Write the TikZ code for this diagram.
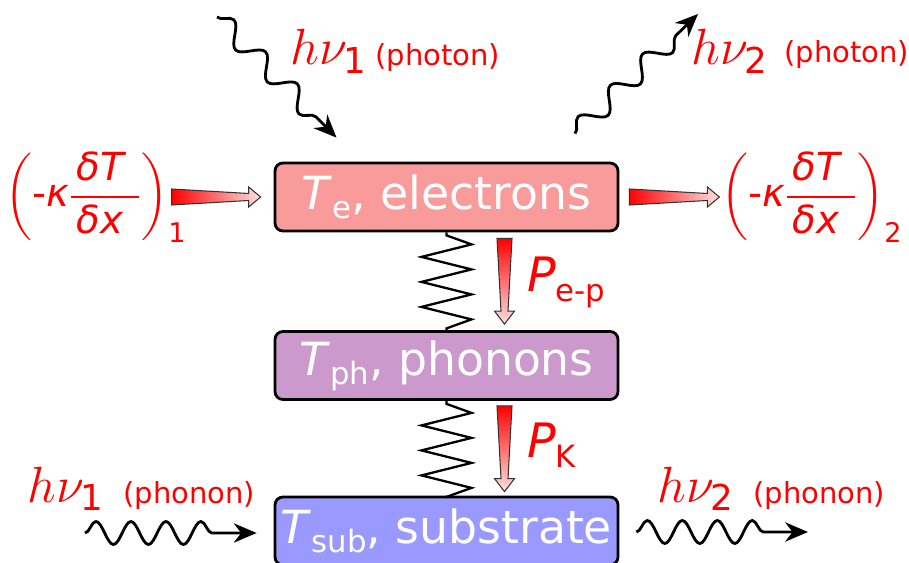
\documentclass[tikz,border=0pt]{standalone}
\usepackage{fix-cm}
\usepackage{amsmath}
\usepackage{fontspec}
\setmainfont{DejaVu Sans}
\usetikzlibrary{arrows.meta,positioning,calc,decorations.pathmorphing}

\definecolor{elecfill}{RGB}{250,155,155}
\definecolor{phonfill}{RGB}{204,153,204}
\definecolor{subfill}{RGB}{153,153,255}

\newcommand{\boxsub}[1]{\raisebox{-5pt}{\fontsize{17.5}{18}\selectfont #1}}
\newcommand{\powsub}[1]{\raisebox{-5.5pt}{\fontsize{17.5}{18}\selectfont #1}}
\newcommand{\gradT}{\dfrac{\hspace{3pt}\text{\itshape δT}\hspace{9pt}}{\text{\itshape δx}\hspace{6pt}}}

% tapered flux arrows, (#1) = tail, (#2) = tip
\newcommand{\hflux}[2]{%
  \shade[flux, left color=red, right color=red!12]
    ($(#1)+(0,-8)$) -- ($(#2)+(-12,-3.5)$) -- ($(#2)+(-12,-10)$) -- (#2)
    -- ($(#2)+(-12,10)$) -- ($(#2)+(-12,3.5)$) -- ($(#1)+(0,8)$) -- cycle;}
\newcommand{\vflux}[2]{%
  \shade[flux, top color=red, bottom color=red!12]
    ($(#1)+(-7.5,0)$) -- ($(#2)+(-3.5,-13)$) -- ($(#2)+(-10,-13)$) -- (#2)
    -- ($(#2)+(10,-13)$) -- ($(#2)+(3.5,-13)$) -- ($(#1)+(7.5,0)$) -- cycle;}

\begin{document}
\begin{tikzpicture}[x=0.02cm, y=-0.02cm, >=Stealth,
  layer/.style={draw, line width=1.6pt, rounded corners=4.5pt, minimum width=6.86cm,
    minimum height=1.36cm, inner sep=0pt, text=white, font=\fontsize{26}{30}\selectfont},
  spring/.style={line width=1.3pt},
  flux/.style={draw=black!80, line width=0.6pt},
  photon/.style={line width=1.6pt, decorate,
    decoration={snake, amplitude=0.2cm, segment length=0.9cm, post length=0.4cm},
    -{Stealth[length=13pt, width=11pt]}},
  phonon/.style={photon, decoration={snake, amplitude=0.23cm, segment length=0.7cm, post length=0.55cm}},
  hnu/.style={text=red, inner sep=0pt, anchor=base west, font=\fontsize{29}{34}\selectfont},
  kind/.style={text=red, inner sep=0pt, anchor=base west, font=\fontsize{16.5}{18}\selectfont},
  power/.style={text=red, inner sep=0pt, anchor=base west, font=\fontsize{27}{30}\selectfont},
  heat/.style={text=red, inner sep=0pt, font=\fontsize{22}{26}\selectfont}]
  \useasboundingbox (0,0) rectangle (909,563);

  % the three layers
  \node[layer, fill=elecfill] (el) at (446.5,197) {\textit{T}\boxsub{e}, electrons};
  \node[layer, fill=phonfill] (ph) at (446.5,365.5) {\textit{T}\boxsub{ph}, phonons};
  \node[layer, fill=subfill] (sub) at (446.5,531) {\textit{T}\boxsub{sub}, substrate};

  % springs between the layers
  \foreach \a/\b in {el/ph, ph/sub}
    \draw[spring] (\a.south) -- ++(0,3) -- ++(25,9) -- ++(-50,12.5) -- ++(50,12.5)
      -- ++(-50,12.5) -- ++(50,12.5) -- ++(-50,12.5) -- ++(50,12.5) -- ++(-25,9) -- (\b.north);

  % heat flows
  \coordinate (qin0) at ($(el.west)+(-102,0)$);
  \coordinate (qin1) at ($(el.west)+(-13,0)$);
  \coordinate (qout0) at ($(el.east)+(10,0)$);
  \coordinate (qout1) at ($(el.east)+(100,0)$);
  \coordinate (pep0) at ($(el.south)+(58,6)$);
  \coordinate (pep1) at ($(ph.north)+(58,-6)$);
  \coordinate (pk0) at ($(ph.south)+(58,5)$);
  \coordinate (pk1) at ($(sub.north)+(58,-4)$);
  \hflux{qin0}{qin1}
  \hflux{qout0}{qout1}
  \vflux{pep0}{pep1}
  \vflux{pk0}{pk1}

  \node[heat] (qL) at (96,197) {$\left(\text{-\itshape κ}\gradT\right)_{\text{1}}$};
  \node[heat] (qR) at (812,197) {$\left(\text{-\itshape κ}\gradT\right)_{\text{2}}$};
  \node[power] (pep) at (527,292) {\textit{P}\powsub{e-p}};
  \node[power] (pk) at (527,458) {\textit{P}\powsub{K}};

  % photons and phonons
  \node[hnu] (hv1) at (290,65) {$h\nu_{\text{1}}$};
  \node[kind] (hv1k) at (375,66) {(photon)};
  \node[hnu] (hv2) at (691,65) {$h\nu_{\text{2}}$};
  \node[kind] (hv2k) at (784,63) {(photon)};
  \node[hnu] (hv3) at (27,502) {$h\nu_{\text{1}}$};
  \node[kind] (hv3k) at (123,503) {(phonon)};
  \node[hnu] (hv4) at (657,502) {$h\nu_{\text{2}}$};
  \node[kind] (hv4k) at (753,503) {(phonon)};

  \coordinate (w1) at (217,17);
  \coordinate (w2) at (698,14);
  \coordinate (w3) at (85,533);
  \coordinate (w4) at (808,532);
  \draw[photon] (w1) -- ($(el.north)+(-110,-24)$);
  \draw[photon] ($(el.north)+(128.5,-28)$) -- (w2);
  \draw[phonon] (w3) -- ($(sub.west)+(-17,2)$);
  \draw[phonon] ($(sub.east)+(17,1)$) -- (w4);
\end{tikzpicture}
\end{document}
